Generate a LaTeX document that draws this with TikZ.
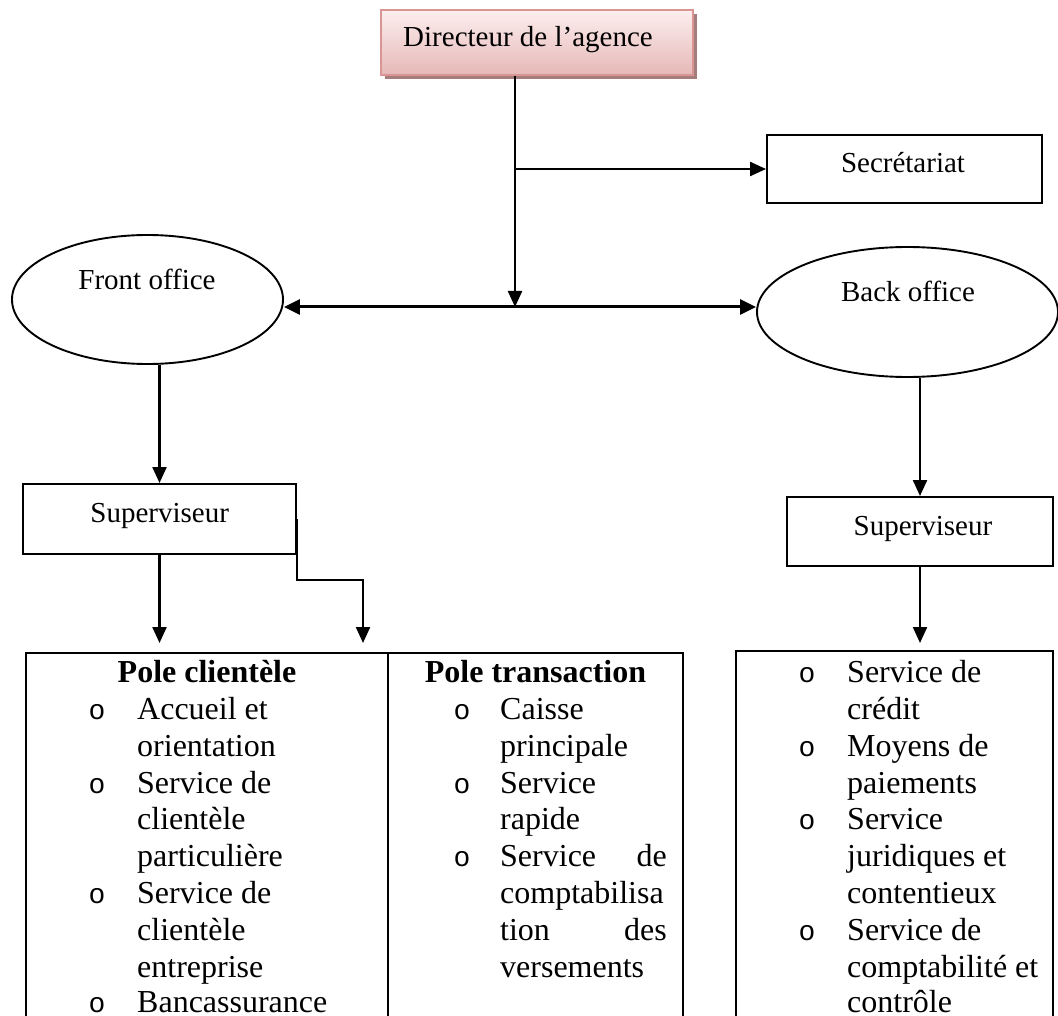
\documentclass[tikz,border=0pt]{standalone}
\usepackage{fontspec}
\setmainfont{Liberation Serif}
\newfontfamily\bulfont{Liberation Mono}
\usetikzlibrary{arrows.meta,shapes.geometric,shadows}
\definecolor{dirtop}{RGB}{253,238,238}
\definecolor{dirbot}{RGB}{229,184,183}
\definecolor{dirline}{RGB}{217,149,148}
\definecolor{dirshadow}{RGB}{165,125,125}
\begin{document}
\begin{tikzpicture}[x=1pt,y=-1pt,
  lbl/.style={font=\fontsize{29}{34}\selectfont, inner sep=0, anchor=base},
  lst/.style={font=\fontsize{32}{37}\selectfont, inner sep=0, anchor=base west},
  lstr/.style={font=\fontsize{32}{37}\selectfont, inner sep=0, anchor=base east},
  hd/.style={font=\fontsize{32}{37}\selectfont\bfseries, inner sep=0, anchor=base},
  bul/.style={font=\bulfont\fontsize{28}{37}\selectfont, inner sep=0, anchor=base},
  rbox/.style={draw, line width=2pt, inner sep=0},
  bigbox/.style={draw, line width=2.8pt, inner sep=0},
  oval/.style={draw, ellipse, line width=1.9pt, inner sep=0},
  arr/.style={line width=2.3pt, -{Triangle[length=16pt,width=14pt]}},
  darr/.style={line width=3pt, {Triangle[length=16pt,width=15pt]}-{Triangle[length=16pt,width=15pt]}}
]
\useasboundingbox (0,0) rectangle (1058,1016);
\fill[white] (0,0) rectangle (1058,1016);
\clip (0,0) rectangle (1058,1016);

% top
\node[draw=dirline, line width=2pt, top color=dirtop, bottom color=dirbot,
      drop shadow={shadow xshift=4pt, shadow yshift=-4pt, fill=dirshadow, opacity=1},
      minimum width=312pt, minimum height=65pt, inner sep=0] (dir) at (537,42.5) {};
\node[lbl] (dirt) at (528,47) {Directeur de l’agence};

\node[rbox, minimum width=275pt, minimum height=68pt] (sec) at (904.5,169) {};
\node[lbl] (sect) at (903,173) {Secrétariat};

\node[oval, minimum width=271pt, minimum height=129pt] (fo) at (147.5,299.5) {};
\node[lbl] (fot) at (147,290) {Front office};
\node[oval, minimum width=301pt, minimum height=130pt] (bo) at (907.5,312) {};
\node[lbl] (bot) at (908,302) {Back office};

\node[rbox, minimum width=273pt, minimum height=70pt] (supl) at (159.5,519) {};
\node[lbl] (suplt) at (159.7,522) {Superviseur};
\node[rbox, minimum width=266pt, minimum height=69pt] (supr) at (920,531.5) {};
\node[lbl] (suprt) at (923,535) {Superviseur};

% bottom boxes
\node[bigbox, minimum width=362pt, minimum height=387pt] (pc) at (207,846.5) {};
\node[bigbox, minimum width=295pt, minimum height=387pt] (pt) at (535.5,846.5) {};
\node[bigbox, minimum width=317pt, minimum height=389pt] (rb) at (894.5,845.5) {};

% connectors
\coordinate (j) at (515,307);
\coordinate (t1) at (159.5,643);
\coordinate (t2) at (363,643);
\coordinate (t3) at (920,643);
\draw[arr] (dir.south -| j) -- (j);
\draw[arr] (sec.west -| j) -- (sec.west);
\draw[darr] (fo.east |- j) -- (bo.west |- j);
\draw[arr] (fo.south -| supl.north) -- (supl.north);
\draw[arr] (supl.south) -- (t1);
\draw[arr] (supl.east) -- ++(0,61) -| (t2);
\draw[arr] (bo.south -| supr.north) -- (supr.north);
\draw[arr] (supr.south) -- (t3);

% column 1
\node[hd] (h1) at (207,682.7) {Pole clientèle};
\node[bul] (b11) at (97,719.5) {o};
\node[bul] (b12) at (97,793.1) {o};
\node[bul] (b13) at (97,903.5) {o};
\node[bul] (b14) at (97,1012.5) {o};
\node[lst] (c1a) at (137,719.5) {Accueil et};
\node[lst] (c1b) at (137,756.3) {orientation};
\node[lst] (c1c) at (137,793.1) {Service de};
\node[lst] (c1d) at (137,829.9) {clientèle};
\node[lst] (c1e) at (137,866.7) {particulière};
\node[lst] (c1f) at (137,903.5) {Service de};
\node[lst] (c1g) at (137,940.3) {clientèle};
\node[lst] (c1h) at (137,977.1) {entreprise};
\node[lst] (c1i) at (137,1012.5) {Bancassurance};

% column 2
\node[hd] (h2) at (535.5,682.7) {Pole transaction};
\node[bul] (b21) at (462,719.5) {o};
\node[bul] (b22) at (462,793.1) {o};
\node[bul] (b23) at (462,866.7) {o};
\node[lst] (c2a) at (500,719.5) {Caisse};
\node[lst] (c2b) at (500,756.3) {principale};
\node[lst] (c2c) at (500,793.1) {Service};
\node[lst] (c2d) at (500,829.9) {rapide};
\node[lst] (c2e) at (500,866.7) {Service};
\node[lstr] (c2e2) at (667,866.7) {de};
\node[lst] (c2f) at (500,903.5) {comptabilisa};
\node[lst] (c2g) at (500,940.3) {tion};
\node[lstr] (c2g2) at (667,940.3) {des};
\node[lst] (c2h) at (500,977.1) {versements};

% column 3
\node[bul] (b31) at (807,682.7) {o};
\node[bul] (b32) at (807,756.3) {o};
\node[bul] (b33) at (807,829.9) {o};
\node[bul] (b34) at (807,940.3) {o};
\node[lst] (c3a) at (847,682.7) {Service de};
\node[lst] (c3b) at (847,719.5) {crédit};
\node[lst] (c3c) at (847,756.3) {Moyens de};
\node[lst] (c3d) at (847,793.1) {paiements};
\node[lst] (c3e) at (847,829.9) {Service};
\node[lst] (c3f) at (847,866.7) {juridiques et};
\node[lst] (c3g) at (847,903.5) {contentieux};
\node[lst] (c3h) at (847,940.3) {Service de};
\node[lst] (c3i) at (847,977.1) {comptabilité et};
\node[lst] (c3j) at (847,1012.5) {contrôle};
\end{tikzpicture}
\end{document}
